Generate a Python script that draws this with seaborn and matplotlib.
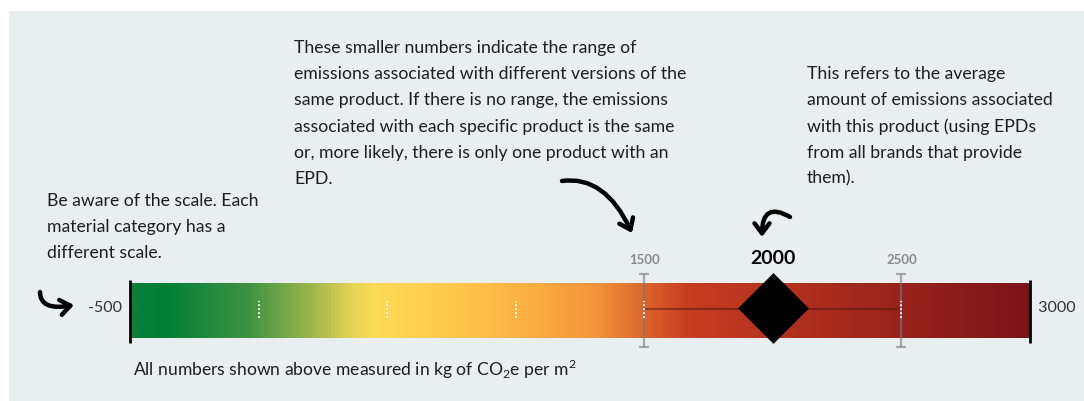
import numpy as np
import seaborn as sns
import matplotlib.pyplot as plt
from matplotlib.colors import LinearSegmentedColormap
from matplotlib.patches import Rectangle

# scale and values
scale_min = -500
scale_max = 3000
dotted_ticks = [0, 500, 1000, 1500, 2500]
range_low = 1500
range_high = 2500
average = 2000

note_range = ["These smaller numbers indicate the range of",
              "emissions associated with different versions of the",
              "same product. If there is no range, the emissions",
              "associated with each specific product is the same",
              "or, more likely, there is only one product with an",
              "EPD."]
note_avg = ["This refers to the average",
            "amount of emissions associated",
            "with this product (using EPDs",
            "from all brands that provide",
            "them)."]
note_scale = ["Be aware of the scale. Each",
              "material category has a",
              "different scale."]
units_note = r"All numbers shown above measured in kg of CO$_{\mathregular{2}}$e per m$^{\mathregular{2}}$"

# gradient colours along the bar
grad_stops = [0.0, 0.035, 0.13, 0.20, 0.245, 0.27, 0.37, 0.45, 0.52, 0.62, 0.72, 0.85, 1.0]
grad_cols = ['#0b7f38', '#007f36', '#3e9343', '#9db64c', '#e3d555', '#fcdc56', '#fec54a',
             '#fbad40', '#f2933a', '#c73d20', '#b5321e', '#9a241b', '#7a1419']

sns.set_theme(style='white')
plt.rcParams['font.family'] = ['Lato', 'DejaVu Sans']

W, H = 1084, 401
fig = plt.figure(figsize=(W / 100, H / 100), dpi=100)
fig.patch.set_facecolor('white')
fig.patches.append(Rectangle((9 / W, 0), 1, 1 - 11 / H, transform=fig.transFigure,
                             facecolor='#e9eef1', edgecolor='none', zorder=-5))

# axes covers exactly the coloured bar
ax = fig.add_axes([130 / W, (H - 338) / H, 900 / W, 55 / H])
ax.set_xlim(scale_min, scale_max)
ax.set_ylim(0, 1)
ax.set_axis_off()

cmap = LinearSegmentedColormap.from_list('emis', list(zip(grad_stops, grad_cols)))
ax.imshow(np.linspace(0, 1, 600)[None, :], cmap=cmap, aspect='auto',
          extent=(scale_min, scale_max, 0, 1), zorder=1)

# ends of the scale
ax.vlines([scale_min, scale_max], -0.09, 1.06, color='black', lw=2, clip_on=False, zorder=5)
ax.text(scale_min, 0.545, '-500  ', ha='right', va='center', fontsize=11.5, color='#333333')
ax.text(scale_max, 0.545, '  3000', ha='left', va='center', fontsize=11.5, color='#333333')

# range whiskers
ax.errorbar([range_low, range_high], [0.5, 0.5], yerr=0.665, fmt='none',
            ecolor='#7a7a7a', alpha=0.6, elinewidth=1.6, capsize=3.5, capthick=1.6,
            clip_on=False, zorder=3)
ax.plot([range_low, range_high], [0.53, 0.53], color='#4a1410', alpha=0.45, lw=1.6, zorder=3)

# white dotted ticks
ax.vlines(dotted_ticks, 0.36, 0.67, color='white', lw=1.3, linestyles=(0, (1, 1.2)), zorder=4)

# average diamond
sns.scatterplot(x=[average], y=[0.545], marker='D', s=1300, color='black',
                linewidth=0, ax=ax, zorder=6, clip_on=False, legend=False)

for v in [range_low, range_high]:
    ax.text(v, 1.42, f'{v}', ha='center', va='center', fontsize=9.5,
            fontweight='bold', color='#8a8a8a')
ax.text(average, 1.44, f'{average}', ha='center', va='center', fontsize=14,
        fontweight='bold', color='black')


def block(lines, x, y0, step=26.2):
    for i, line in enumerate(lines):
        fig.text(x / W, 1 - (y0 + i * step) / H, line, ha='left', va='center',
                 fontsize=12.7, color='#1e1e1e')


block(note_range, 294, 48)
block(note_avg, 807, 74)
block(note_scale, 47, 201)
fig.text(133 / W, 1 - 369 / H, units_note, ha='left', va='center', fontsize=12.6, color='#1e1e1e')

# hand drawn arrows
arrow_kw = dict(arrowstyle='->,head_length=0.6,head_width=0.45', lw=3.2, color='black',
                shrinkA=0, shrinkB=0, capstyle='round')
ax.annotate('', xy=(632, H - 233), xytext=(562, H - 181), xycoords='figure pixels',
            textcoords='figure pixels',
            arrowprops=dict(connectionstyle='angle3,angleA=8,angleB=-65', **arrow_kw))
ax.annotate('', xy=(762, H - 237), xytext=(790, H - 217), xycoords='figure pixels',
            textcoords='figure pixels',
            arrowprops=dict(connectionstyle='angle3,angleA=150,angleB=-90', **arrow_kw))
ax.annotate('', xy=(74, H - 305), xytext=(40, H - 292), xycoords='figure pixels',
            textcoords='figure pixels',
            arrowprops=dict(connectionstyle='angle3,angleA=-90,angleB=10', **arrow_kw))

plt.savefig('out.png', dpi=100)
